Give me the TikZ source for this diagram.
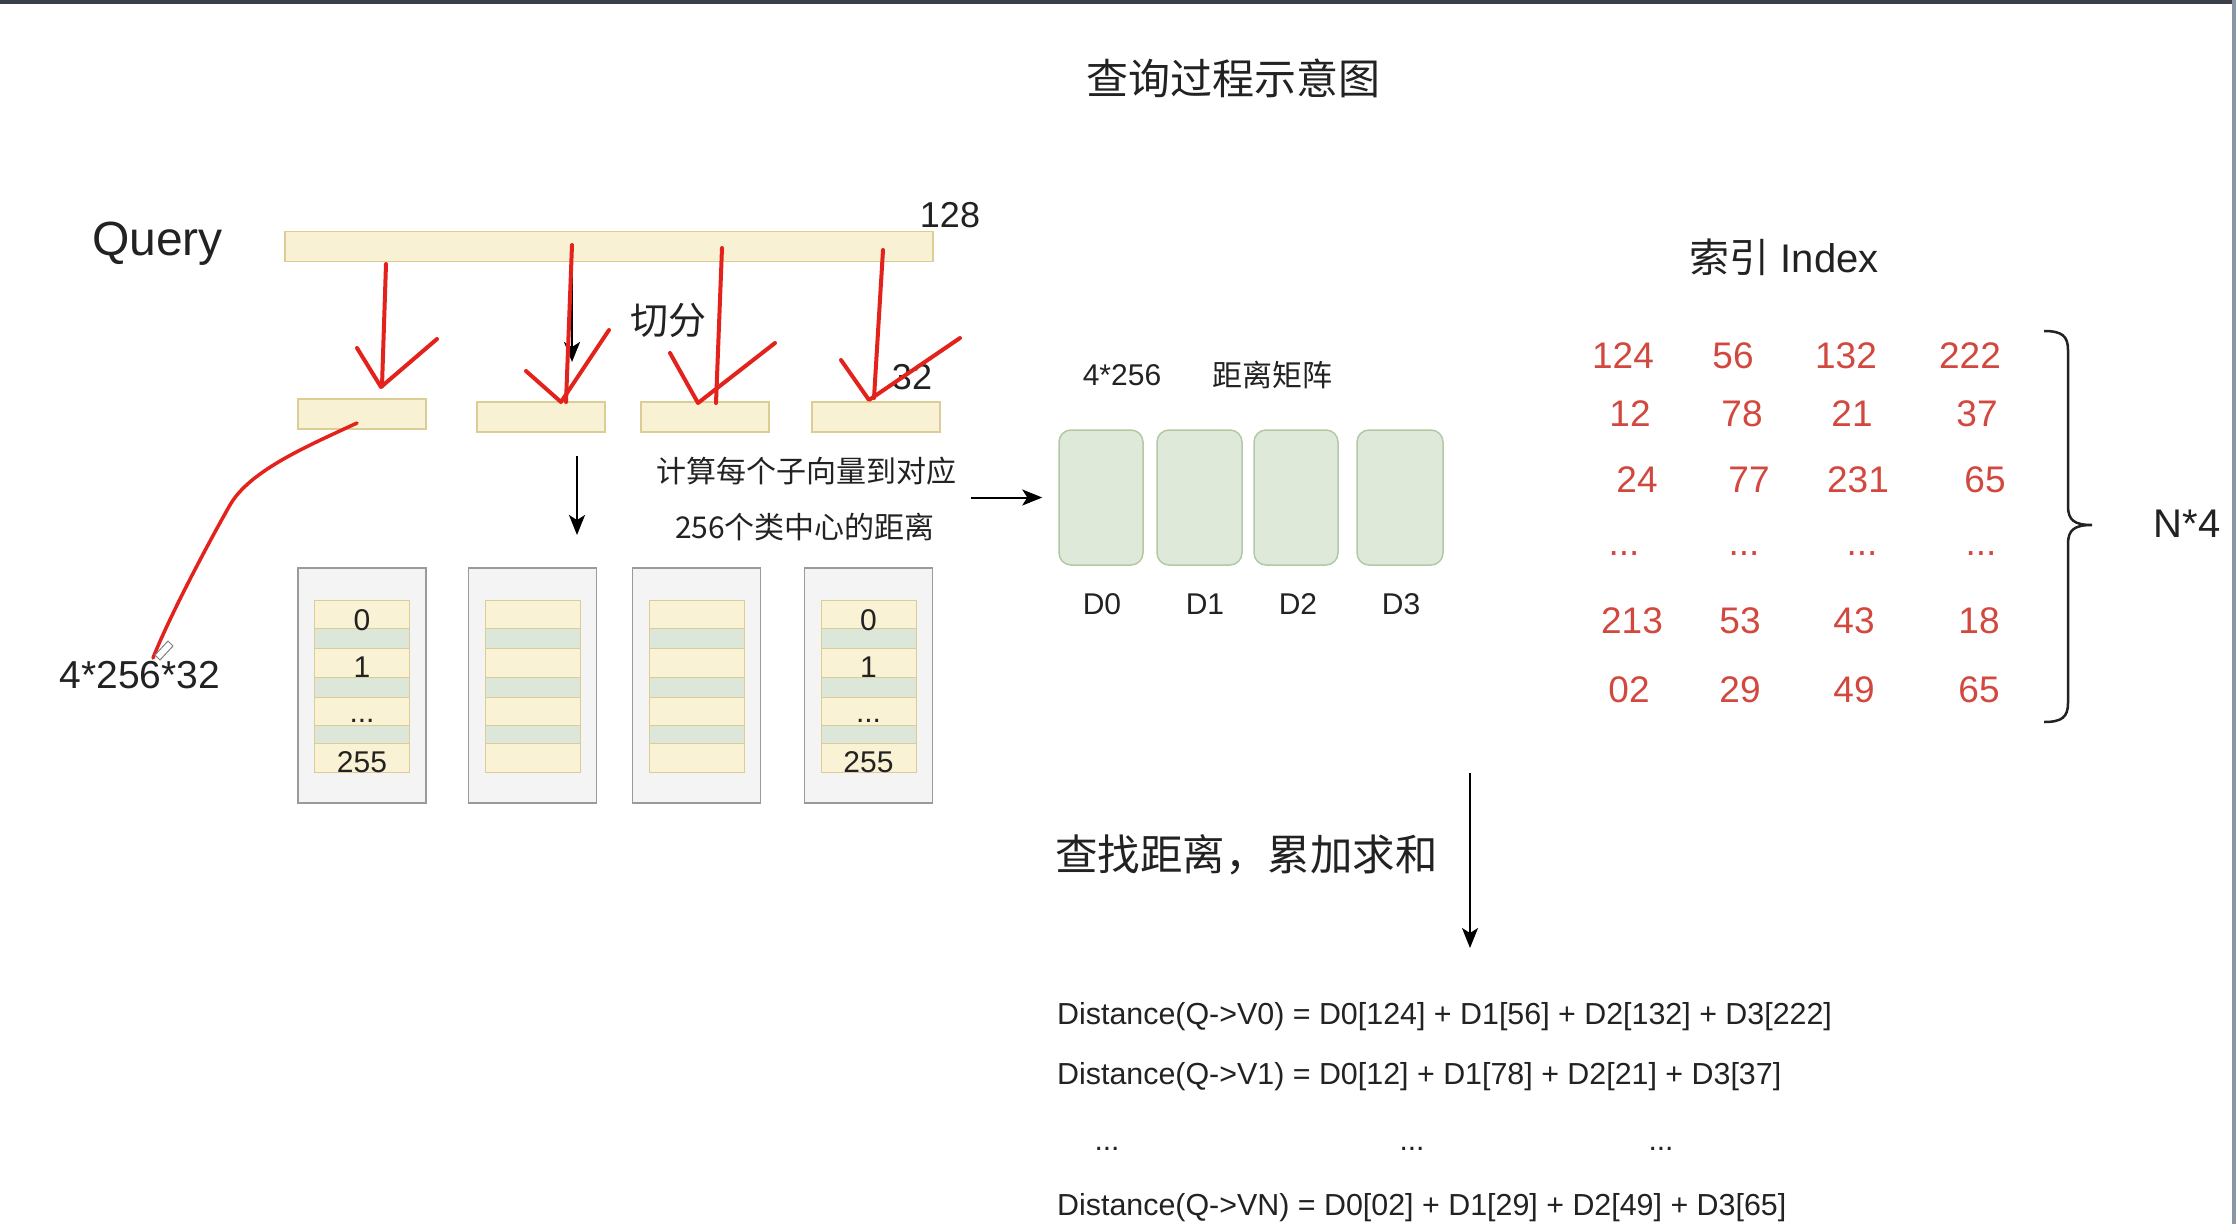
\documentclass[tikz,border=0pt]{standalone}
\usepackage{fontspec}
\setmainfont{Liberation Sans}
\newfontfamily\cjk{Noto Sans CJK SC}
\usetikzlibrary{arrows.meta}
\definecolor{txtc}{HTML}{222222}
\definecolor{barfill}{HTML}{F8F1D3}
\definecolor{bardraw}{HTML}{DCCD96}
\definecolor{outfill}{HTML}{F4F4F4}
\definecolor{outdraw}{HTML}{9A9A9A}
\definecolor{stripeY}{HTML}{FAF2D4}
\definecolor{stripeG}{HTML}{DCE7DA}
\definecolor{gfill}{HTML}{DFE9D9}
\definecolor{gdraw}{HTML}{B3C9A4}
\definecolor{numred}{HTML}{D2483E}
\definecolor{redpen}{HTML}{E3221C}
\definecolor{frametop}{HTML}{3A3F48}
\definecolor{frameright}{HTML}{8A96A4}
\newcommand\myfs[1]{\fontsize{#1}{#1}\selectfont}
\begin{document}
\begin{tikzpicture}[x=1pt,y=-1pt,
  txt/.style={text=txtc, inner sep=0pt},
  num/.style={text=numred, inner sep=0pt, font=\myfs{37}},
  bar/.style={draw=bardraw, fill=barfill, line width=1.5pt, inner sep=0pt, minimum height=30pt},
  outerbox/.style={draw=outdraw, fill=outfill, line width=1.5pt, inner sep=0pt, minimum width=128pt, minimum height=235pt},
  stripe/.style={draw=bardraw, line width=1pt},
  gbox/.style={draw=gdraw, fill=gfill, line width=1.5pt, rounded corners=12pt, inner sep=0pt, minimum height=135pt},
  pen/.style={draw=redpen, line width=4pt, line cap=round, line join=round},
  blk/.style={draw=black, line width=2pt, -{Stealth[length=20pt,width=16pt,inset=5pt]}}
]
\useasboundingbox (0,0) rectangle (2236,1224);
\fill[white] (0,0) rectangle (2236,1224);
\fill[frametop] (0,0) rectangle (2236,4);
\fill[frameright] (2232,0) rectangle (2236,1224);

% title
\node[txt, font=\cjk\myfs{42}] (title) at (1233,78) {查询过程示意图};

% query
\node[txt, font=\myfs{48}, anchor=base west] (qlabel) at (92,255) {Query};
\node[bar, minimum width=648pt] (qbar) at (609,246.5) {};
\node[txt, font=\myfs{36}] (l128) at (950,215) {128};

% sub bars
\node[bar, minimum width=128pt] (s1) at (362,414) {};
\node[bar, minimum width=128pt] (s2) at (541,417) {};
\node[bar, minimum width=128pt] (s3) at (705,417) {};
\node[bar, minimum width=128pt] (s4) at (876,417) {};
\node[txt, font=\cjk\myfs{38}] (cut) at (668,320) {切分};
\node[txt, font=\myfs{36}] (l32) at (912,377) {32};

% black arrow hidden under red
\coordinate (ba1) at (572,262);
\coordinate (ba2) at (572,362);
\draw[blk] (ba1) -- (ba2);

% red hand-drawn arrows
\draw[pen] (386,264) -- (382,386);
\draw[pen] (357,348) -- (381,387) -- (437,339);
\draw[pen] (572,245) -- (566,402);
\draw[pen] (526,371) -- (561,402) -- (609,330);
\draw[pen] (722,248) -- (716,403);
\draw[pen] (670,353) -- (698,403) -- (775,343);
\draw[pen] (883,250) -- (874,398);
\draw[pen] (841,360) -- (869,400) -- (960,338);

% red curve to 4*256*32
\draw[pen, line width=3.5pt] (357,423) .. controls (310,445) and (250,470) .. (230,505) .. controls (210,540) and (170,615) .. (153,658);
\draw[gray, line width=1pt, fill=white] (155,655) -- (168,641) -- (173,646) -- (160,660) -- cycle;
\node[txt, font=\myfs{39}] (l4256) at (140,675) {4*256*32};

% arrow down to codebooks
\coordinate (ma1) at (577,456);
\coordinate (ma2) at (577,535);
\draw[blk] (ma1) -- (ma2);

% codebooks
\foreach \cx [count=\i] in {362,532.5,696.5,868.5} {
  \node[outerbox] (cb\i) at (\cx,685.5) {};
  \foreach \ya/\yb/\c in {600/628/stripeY,628/648/stripeG,648/677/stripeY,677/697/stripeG,697/725/stripeY,725/743/stripeG,743/772/stripeY}
    \draw[stripe, fill=\c] (\cx-47.5,\ya) rectangle (\cx+47.5,\yb);
}
\foreach \cx/\nm in {362/a,868.5/b} {
  \node[txt, font=\myfs{30}, anchor=base] (z\nm) at (\cx,630) {0};
  \node[txt, font=\myfs{30}, anchor=base] (o\nm) at (\cx,677) {1};
  \node[txt, font=\myfs{30}, anchor=base] (d\nm) at (\cx,722) {...};
  \node[txt, font=\myfs{30}, anchor=base] (f\nm) at (\cx,772) {255};
}

% explanation text
\node[txt, font=\cjk\myfs{30}] (exp1) at (806,471) {计算每个子向量到对应};
\node[txt, font=\cjk\myfs{30}] (exp2) at (805,527) {256个类中心的距离};

% distance matrix
\node[txt, font=\myfs{30}] (m4256) at (1122,375) {4*256};
\node[txt, font=\cjk\myfs{30}] (mlab) at (1272,375) {距离矩阵};
\node[gbox, minimum width=84pt] (D0) at (1101,497.5) {};
\node[gbox, minimum width=85pt] (D1) at (1199.5,497.5) {};
\node[gbox, minimum width=84pt] (D2) at (1296,497.5) {};
\node[gbox, minimum width=86pt] (D3) at (1400,497.5) {};
\node[txt, font=\myfs{30}] (d0l) at (1102,604) {D0};
\node[txt, font=\myfs{30}] (d1l) at (1205,604) {D1};
\node[txt, font=\myfs{30}] (d2l) at (1298,604) {D2};
\node[txt, font=\myfs{30}] (d3l) at (1401,604) {D3};
\coordinate (ha1) at (971,497.5);
\draw[blk, shorten >=16pt] (ha1) -- (D0.west);

% index
\node[txt, font=\myfs{40}] (idx) at (1784,257) {{\cjk 索引} Index};
\node[num] (n11) at (1623,356) {124};
\node[num] (n12) at (1733,356) {56};
\node[num] (n13) at (1846,356) {132};
\node[num] (n14) at (1970,356) {222};
\node[num] (n21) at (1630,414) {12};
\node[num] (n22) at (1742,414) {78};
\node[num] (n23) at (1852,414) {21};
\node[num] (n24) at (1977,414) {37};
\node[num] (n31) at (1637,480) {24};
\node[num] (n32) at (1749,480) {77};
\node[num] (n33) at (1858,480) {231};
\node[num] (n34) at (1985,480) {65};
\node[num, anchor=base] (n41) at (1624,555) {...};
\node[num, anchor=base] (n42) at (1744,555) {...};
\node[num, anchor=base] (n43) at (1862,555) {...};
\node[num, anchor=base] (n44) at (1981,555) {...};
\node[num] (n51) at (1632,621) {213};
\node[num] (n52) at (1740,621) {53};
\node[num] (n53) at (1854,621) {43};
\node[num] (n54) at (1979,621) {18};
\node[num] (n61) at (1629,690) {02};
\node[num] (n62) at (1740,690) {29};
\node[num] (n63) at (1854,690) {49};
\node[num] (n64) at (1979,690) {65};

% brace
\draw[txtc, line width=2.5pt] (2044,331) .. controls (2062,331) and (2068,336) .. (2068,350) -- (2068,506) .. controls (2068,520) and (2074,525) .. (2092,525) .. controls (2074,525) and (2068,530) .. (2068,544) -- (2068,703) .. controls (2068,717) and (2062,722) .. (2044,722);
\node[txt, font=\myfs{40}] (n4) at (2187,524) {N*4};

% lookup arrow
\coordinate (la1) at (1470,773);
\coordinate (la2) at (1470,948);
\draw[blk] (la1) -- (la2);
\node[txt, font=\cjk\myfs{42.5}, anchor=west] (lookup) at (1055,855) {查找距离，累加求和};

% distance formulas
\node[txt, font=\myfs{30.4}, anchor=west] (f1) at (1057,1017) {Distance(Q->V0) = D0[124] + D1[56] + D2[132] + D3[222]};
\node[txt, font=\myfs{30.4}, anchor=west] (f2) at (1057,1077) {Distance(Q->V1) = D0[12] + D1[78] + D2[21] + D3[37]};
\node[txt, font=\myfs{30}, anchor=base] (e1) at (1107,1150) {...};
\node[txt, font=\myfs{30}, anchor=base] (e2) at (1412,1150) {...};
\node[txt, font=\myfs{30}, anchor=base] (e3) at (1661,1150) {...};
\node[txt, font=\myfs{30.4}, anchor=west] (f3) at (1057,1208) {Distance(Q->VN) = D0[02] + D1[29] + D2[49] + D3[65]};
\end{tikzpicture}
\end{document}
